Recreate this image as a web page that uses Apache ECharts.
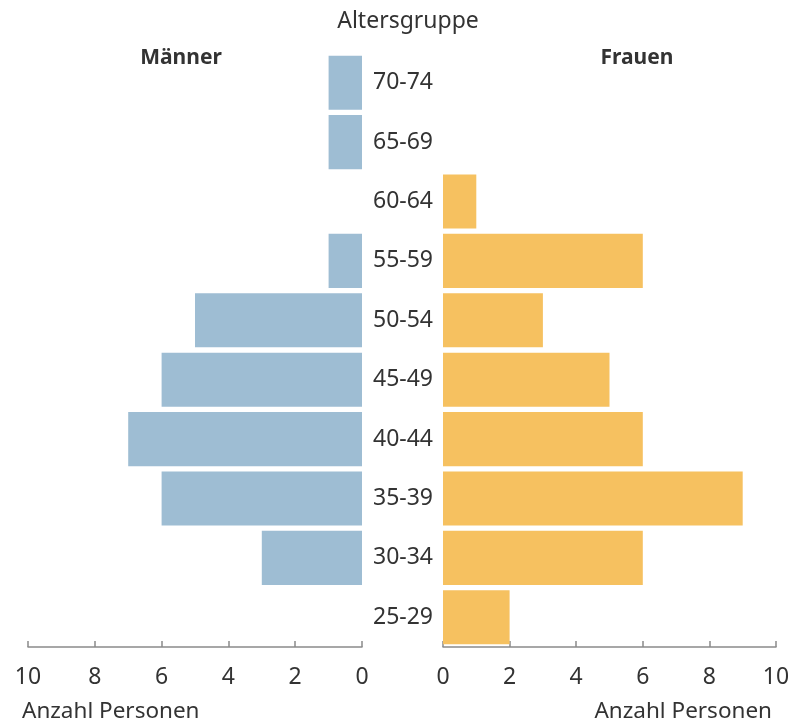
<!DOCTYPE html>
<html><head><meta charset="utf-8">
<script src="https://cdn.jsdelivr.net/npm/echarts@6/dist/echarts.min.js"></script>
<style>html,body{margin:0;padding:0;background:#fff}#c{width:796px;height:724px}</style>
</head><body><div id="c"></div>
<script>
const categories = ['25-29','30-34','35-39','40-44','45-49','50-54','55-59','60-64','65-69','70-74'];
const maenner = [0,3,6,7,6,5,1,0,1,1];
const frauen  = [2,6,9,6,5,3,6,1,0,0];
const xTicks = [0,2,4,6,8,10];

const font = '"Noto Sans", "Open Sans", sans-serif';
const chart = echarts.init(document.getElementById('c'));
const axisCommon = {
  type:'value', min:0, max:10, interval:2,
  axisLine:{show:true, lineStyle:{color:'#8a8a8a', width:1.5}},
  axisTick:{show:true, inside:true, length:6, lineStyle:{color:'#8a8a8a', width:1.5}},
  splitLine:{show:false},
  axisLabel:{fontSize:23, color:'#333', fontFamily:font, margin:19},
  nameLocation:'end'
};
chart.setOption({
  animation:false,
  textStyle:{fontFamily:font},
  title:[
    {text:'Altersgruppe', left:403, top:5, textAlign:'center', textStyle:{fontSize:23, fontWeight:'normal', color:'#333', fontFamily:font}},
    {text:'Männer', left:176, top:43, textAlign:'center', textStyle:{fontSize:21, fontWeight:'bold', color:'#333', fontFamily:font}},
    {text:'Frauen', left:632, top:43, textAlign:'center', textStyle:{fontSize:21, fontWeight:'bold', color:'#333', fontFamily:font}},
    {text:'Anzahl Personen', left:17, top:695, textStyle:{fontSize:22.5, fontWeight:'normal', color:'#333', fontFamily:font}},
    {text:'Anzahl Personen', right:19, top:695, textStyle:{fontSize:22.5, fontWeight:'normal', color:'#333', fontFamily:font}}
  ],
  grid:[
    {left:28, width:334, top:53, height:594},
    {left:443, width:333, top:53, height:594}
  ],
  xAxis:[
    Object.assign({}, axisCommon, {gridIndex:0, inverse:true}),
    Object.assign({}, axisCommon, {gridIndex:1})
  ],
  yAxis:[
    {type:'category', gridIndex:0, data:categories, position:'right',
     axisLine:{show:false}, axisTick:{show:false},
     axisLabel:{fontSize:23, color:'#333', fontFamily:font, align:'center', margin:41}},
    {type:'category', gridIndex:1, data:categories,
     axisLine:{show:false}, axisTick:{show:false}, axisLabel:{show:false}}
  ],
  series:[
    {type:'bar', name:'Männer', xAxisIndex:0, yAxisIndex:0, data:maenner, barCategoryGap:'9%',
     itemStyle:{color:'#9ebdd3'}},
    {type:'bar', name:'Frauen', xAxisIndex:1, yAxisIndex:1, data:frauen, barCategoryGap:'9%',
     itemStyle:{color:'#f6c160'}}
  ]
});
</script></body></html>
